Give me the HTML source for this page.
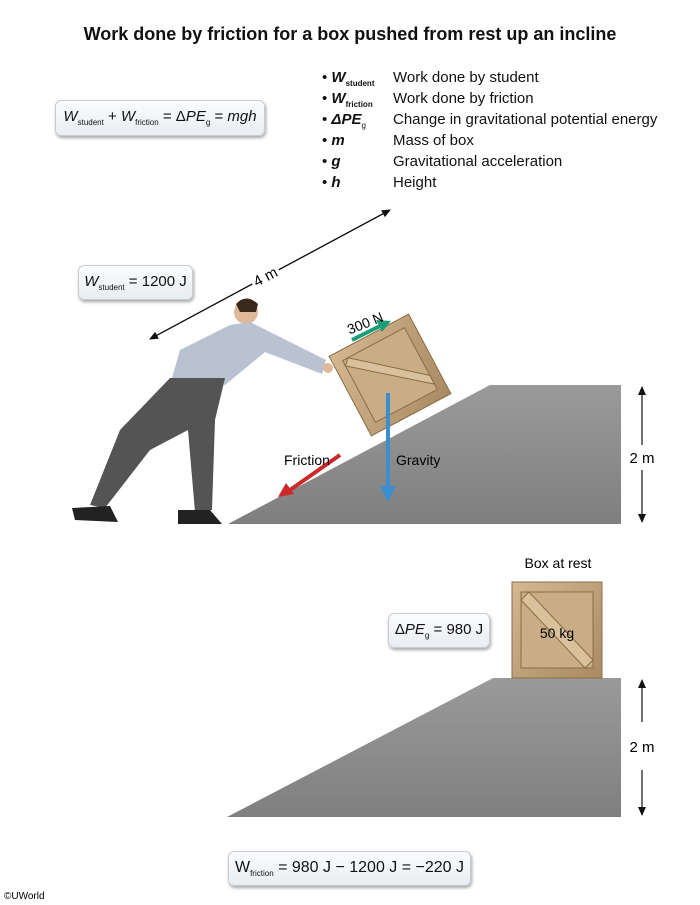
<!DOCTYPE html>
<html><head><meta charset="utf-8"><style>
body{margin:0;width:700px;height:905px;background:#fff;position:relative;font-family:"Liberation Sans",sans-serif;color:#111;overflow:hidden}
.t{position:absolute;white-space:nowrap}
.box{position:absolute;background:linear-gradient(#fbfcfd,#e9edf1);border:1px solid #c8ccd2;border-radius:6px;box-shadow:1px 2px 3px rgba(0,0,0,.35);font-size:15px;text-align:center;white-space:nowrap;box-sizing:border-box;padding-top:7px}
sub{font-size:8px;font-style:normal;vertical-align:-4px;line-height:0}
.lg{position:absolute;left:322px;font-size:15px}
.lg b{font-style:italic}
</style></head><body>
<div class="t" style="left:0;width:700px;text-align:center;top:24px;font-size:18px;font-weight:bold">Work done by friction for a box pushed from rest up an incline</div>

<div class="box" style="left:55px;top:100px;width:210px;height:36px"><span><i>W</i><sub>student</sub> + <i>W</i><sub>friction</sub> = Δ<i>PE</i><sub>g</sub> = <i>mgh</i></span></div>

<div class="lg" style="top:69px">• <b>W</b><sub><b style="font-style:normal">student</b></sub></div><div class="t" style="left:393px;top:69px;font-size:15px">Work done by student</div>
<div class="lg" style="top:90px">• <b>W</b><sub><b style="font-style:normal">friction</b></sub></div><div class="t" style="left:393px;top:90px;font-size:15px">Work done by friction</div>
<div class="lg" style="top:111px">• <b>ΔPE</b><sub>g</sub></div><div class="t" style="left:393px;top:111px;font-size:15px">Change in gravitational potential energy</div>
<div class="lg" style="top:132px">• <b>m</b></div><div class="t" style="left:393px;top:132px;font-size:15px">Mass of box</div>
<div class="lg" style="top:153px">• <b>g</b></div><div class="t" style="left:393px;top:153px;font-size:15px">Gravitational acceleration</div>
<div class="lg" style="top:174px">• <b>h</b></div><div class="t" style="left:393px;top:174px;font-size:15px">Height</div>

<div class="box" style="left:78px;top:265px;width:115px;height:35px"><span><i>W</i><sub>student</sub> = 1200 J</span></div>

<svg width="700" height="905" style="position:absolute;left:0;top:0" xmlns="http://www.w3.org/2000/svg">
<defs>
<marker id="a" markerWidth="10" markerHeight="10" refX="8" refY="5" orient="auto" markerUnits="userSpaceOnUse"><path d="M0,1 L9,5 L0,9 z" fill="#111"/></marker>
<linearGradient id="g" x1="0" y1="0" x2="0" y2="1"><stop offset="0" stop-color="#9a9a9a"/><stop offset="1" stop-color="#7f7f7f"/></linearGradient>
<linearGradient id="w" x1="0" y1="0" x2="1" y2="1"><stop offset="0" stop-color="#d4b88f"/><stop offset="1" stop-color="#a98a62"/></linearGradient>
</defs>
<line x1="150" y1="339" x2="390" y2="210" stroke="#111" stroke-width="1.2" marker-end="url(#a)"/>
<line x1="390" y1="210" x2="150" y2="339" stroke="#111" stroke-width="1.2" marker-end="url(#a)"/>
<rect x="250" y="268" width="30" height="16" fill="#fff" transform="rotate(-28 265 276)"/>
<text x="265" y="282" font-size="15" text-anchor="middle" transform="rotate(-28 265 276)" font-family="Liberation Sans">4 m</text>
<path d="M228,524 L490,385 L621,385 L621,524 Z" fill="url(#g)"/>
<line x1="642" y1="445" x2="642" y2="387" stroke="#111" stroke-width="1.2" marker-end="url(#a)"/>
<line x1="642" y1="470" x2="642" y2="522" stroke="#111" stroke-width="1.2" marker-end="url(#a)"/>
<text x="642" y="463" font-size="15" text-anchor="middle" font-family="Liberation Sans">2 m</text>
<g transform="rotate(-28 390 375)">
<rect x="345" y="330" width="90" height="90" fill="url(#w)" stroke="#8a6d48"/>
<rect x="355" y="340" width="70" height="70" fill="#c9ad85" stroke="#8a6d48"/>
<path d="M355,346 L361,340 L425,394 L425,404 Z" fill="#d8c19c" stroke="#8a6d48"/>
</g>
<circle cx="246" cy="312" r="12" fill="#e0b89a"/>
<path d="M236,304 Q246,293 258,304 L256,312 L240,312 Z" fill="#3a2a1e"/>
<path d="M230,325 L250,322 L326,360 L322,374 L265,352 L225,385 L170,385 L180,350 Z" fill="#b9c2d0"/>
<path d="M170,378 L225,378 L215,420 L212,510 L195,512 L188,430 L150,450 L105,508 L90,505 L120,430 Z" fill="#545454"/>
<path d="M72,508 L110,506 L118,522 L75,520 Z" fill="#222"/>
<path d="M178,510 L210,510 L222,524 L178,524 Z" fill="#222"/>
<circle cx="328" cy="368" r="5" fill="#e0b89a"/>
<line x1="352" y1="340" x2="380" y2="326" stroke="#1a9e78" stroke-width="4"/>
<path d="M391,321 L376,320 L382,332 Z" fill="#1a9e78"/>
<line x1="388" y1="393" x2="388" y2="488" stroke="#3b8fd0" stroke-width="4"/>
<path d="M388,502 L380,486 L396,486 Z" fill="#3b8fd0"/>
<line x1="340" y1="455" x2="290" y2="490" stroke="#cc2a2a" stroke-width="4"/>
<path d="M278,497 L286,483 L294,494 Z" fill="#cc2a2a"/>
<text x="346" y="328" font-size="14" font-family="Liberation Sans" transform="rotate(-22 365 322)">300 N</text>
<text x="284" y="465" font-size="14" font-family="Liberation Sans">Friction</text>
<text x="396" y="465" font-size="14" font-family="Liberation Sans">Gravity</text>
<path d="M227,817 L493,678 L621,678 L621,817 Z" fill="url(#g)"/>
<line x1="642" y1="722" x2="642" y2="680" stroke="#111" stroke-width="1.2" marker-end="url(#a)"/>
<line x1="642" y1="770" x2="642" y2="815" stroke="#111" stroke-width="1.2" marker-end="url(#a)"/>
<text x="642" y="752" font-size="15" text-anchor="middle" font-family="Liberation Sans">2 m</text>
<rect x="512" y="582" width="90" height="96" fill="url(#w)" stroke="#8a6d48"/>
<rect x="521" y="592" width="72" height="76" fill="#c9ad85" stroke="#8a6d48"/>
<path d="M521,600 L529,592 L593,660 L585,668 Z" fill="#d8c19c" stroke="#8a6d48"/>
<text x="557" y="638" font-size="14" text-anchor="middle" font-family="Liberation Sans">50 kg</text>
<text x="558" y="568" font-size="14" text-anchor="middle" font-family="Liberation Sans">Box at rest</text>
<text x="4" y="899" font-size="10" font-family="Liberation Sans">©UWorld</text>
</svg>

<div class="box" style="left:388px;top:613px;width:102px;height:35px"><span>Δ<i>PE</i><sub>g</sub> = 980 J</span></div>
<div class="box" style="left:228px;top:851px;width:243px;height:35px;font-size:16px"><span>W<sub>friction</sub> = 980 J − 1200 J = −220 J</span></div>
</body></html>
